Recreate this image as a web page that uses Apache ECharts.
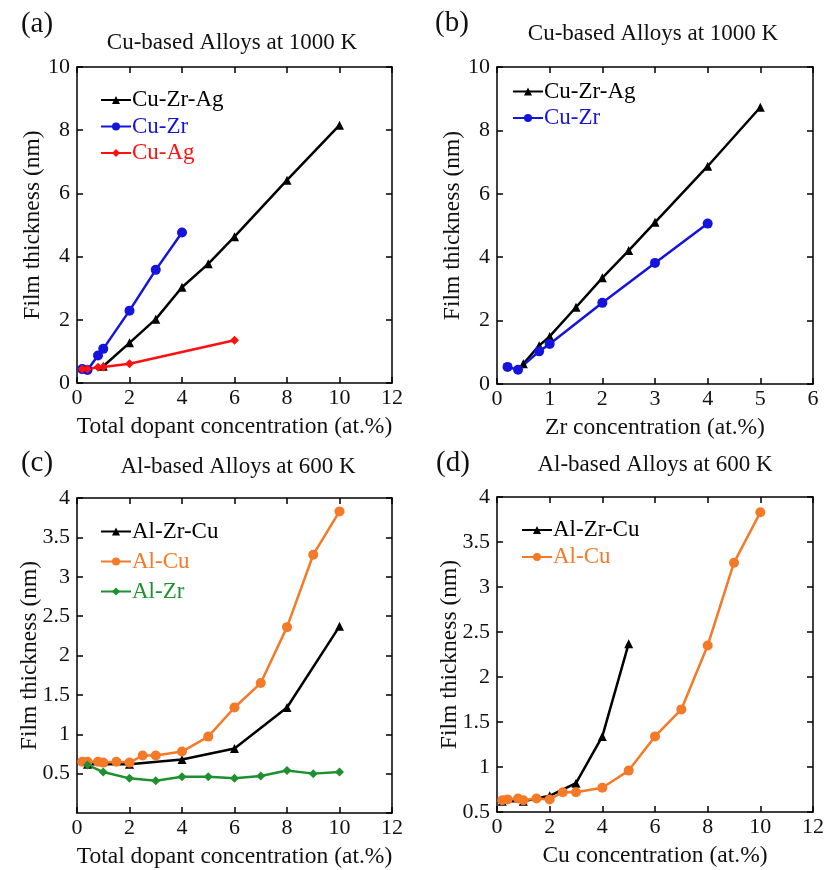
<!DOCTYPE html>
<html><head><meta charset="utf-8">
<script src="https://cdn.jsdelivr.net/npm/echarts@6/dist/echarts.min.js"></script>
<style>html,body{margin:0;padding:0;background:#fff}#c{width:827px;height:870px}</style>
</head><body><div id="c"></div>
<script>
// ---- Data ----
// Panel (a): Cu-based, total dopant
const aCuZrAgX = [1, 2, 3, 4, 5, 6, 8, 10];
const aCuZrAgY = [0.53, 1.27, 2.02, 3.03, 3.77, 4.63, 6.42, 8.16];
const aCuZrX = [0.2, 0.4, 0.8, 1, 2, 3, 4];
const aCuZrY = [0.44, 0.41, 0.87, 1.08, 2.29, 3.58, 4.76];
const aCuAgX = [0.2, 0.4, 0.8, 1, 2, 6];
const aCuAgY = [0.44, 0.44, 0.50, 0.51, 0.61, 1.35];
// Panel (b): Cu-based, Zr concentration
const bCuZrAgX = [0.5, 0.8, 1, 1.5, 2, 2.5, 3, 4, 5];
const bCuZrAgY = [0.64, 1.21, 1.50, 2.42, 3.35, 4.21, 5.10, 6.87, 8.73];
const bCuZrX = [0.2, 0.4, 0.8, 1, 2, 3, 4];
const bCuZrY = [0.54, 0.45, 1.03, 1.26, 2.56, 3.82, 5.06];
// Panel (c): Al-based, total dopant
const cAlZrCuX = [0.4, 2, 4, 6, 8, 10];
const cAlZrCuY = [0.62, 0.62, 0.68, 0.82, 1.34, 2.37];
const cAlCuX = [0.2, 0.4, 0.8, 1, 1.5, 2, 2.5, 3, 4, 5, 6, 7, 8, 9, 10];
const cAlCuY = [0.65, 0.65, 0.65, 0.64, 0.65, 0.64, 0.73, 0.73, 0.78, 0.97, 1.34, 1.65, 2.36, 3.28, 3.83];
const cAlZrX = [0.4, 1, 2, 3, 4, 5, 6, 7, 8, 9, 10];
const cAlZrY = [0.61, 0.52, 0.44, 0.41, 0.46, 0.46, 0.44, 0.47, 0.54, 0.50, 0.52];
// Panel (d): Al-based, Cu concentration
const dAlZrCuX = [0.2, 1, 2, 3, 4, 5];
const dAlZrCuY = [0.62, 0.62, 0.68, 0.82, 1.34, 2.37];
const dAlCuX = [0.2, 0.4, 0.8, 1, 1.5, 2, 2.5, 3, 4, 5, 6, 7, 8, 9, 10];
const dAlCuY = [0.63, 0.64, 0.65, 0.63, 0.65, 0.64, 0.72, 0.72, 0.77, 0.96, 1.34, 1.64, 2.35, 3.27, 3.83];

const panelTitles = ['Cu-based Alloys at 1000 K', 'Cu-based Alloys at 1000 K', 'Al-based Alloys at 600 K', 'Al-based Alloys at 600 K'];
const panelLetters = ['(a)', '(b)', '(c)', '(d)'];
const xNames = ['Total dopant concentration (at.%)', 'Zr concentration (at.%)', 'Total dopant concentration (at.%)', 'Cu concentration (at.%)'];
const yName = 'Film thickness (nm)';

// ---- Styling / layout ----
const FONT = '"Liberation Serif", "Times New Roman", serif';
const C = {black: '#000000', blue: '#1414dc', red: '#ff1010', orange: '#f47a28', green: '#1f9030'};
const grids = [
  {left: 77, top: 67, width: 315, height: 316},
  {left: 497, top: 67, width: 316, height: 317},
  {left: 77, top: 498, width: 315, height: 315},
  {left: 497, top: 497, width: 316, height: 315}
];
const xr = [{min: 0, max: 12, interval: 2}, {min: 0, max: 6, interval: 1}, {min: 0, max: 12, interval: 2}, {min: 0, max: 12, interval: 2}];
const yr = [{min: 0, max: 10, interval: 2}, {min: 0, max: 10, interval: 2}, {min: 0, max: 4, interval: 0.5}, {min: 0.5, max: 4, interval: 0.5}];
const yNameGap = [32, 32, 35, 35];

function zip(xs, ys) { return xs.map((x, i) => [x, ys[i]]); }

const mkLine = () => ({show: true, onZero: false, lineStyle: {color: '#000', width: 1.5}});
const mkTick = () => ({show: true, inside: true, length: 6, lineStyle: {color: '#000', width: 1.5}});
const mkLbl = () => ({color: '#111', fontFamily: FONT, fontSize: 22});
const nameStyle = () => ({color: '#111', fontFamily: FONT, fontSize: 23.5});

const xAxis = [], yAxis = [];
for (let i = 0; i < 4; i++) {
  xAxis.push(Object.assign({type: 'value', gridIndex: i, position: 'bottom', name: xNames[i], nameLocation: 'middle', nameGap: 32,
    nameMoveOverlap: false,
    nameTextStyle: nameStyle(), axisLine: mkLine(), axisTick: mkTick(), splitLine: {show: false},
    axisLabel: Object.assign({margin: 4}, mkLbl())}, xr[i]));
  yAxis.push(Object.assign({type: 'value', gridIndex: i, position: 'left', name: yName, nameLocation: 'middle', nameGap: yNameGap[i],
    nameMoveOverlap: false,
    nameTextStyle: nameStyle(), axisLine: mkLine(), axisTick: mkTick(), splitLine: {show: false},
    axisLabel: Object.assign({margin: 7, showMinLabel: i !== 2}, mkLbl())}, yr[i]));
}
for (let i = 0; i < 4; i++) {
  xAxis.push(Object.assign({type: 'value', gridIndex: i, position: 'top', axisLine: mkLine(), axisTick: mkTick(), splitLine: {show: false}, axisLabel: {show: false}}, xr[i]));
  yAxis.push(Object.assign({type: 'value', gridIndex: i, position: 'right', axisLine: mkLine(), axisTick: mkTick(), splitLine: {show: false}, axisLabel: {show: false}}, yr[i]));
}

function ser(name, gi, xs, ys, color, symbol, size) {
  return {name, type: 'line', xAxisIndex: gi, yAxisIndex: gi, data: zip(xs, ys), symbol, symbolSize: size,
    lineStyle: {color, width: 2.5}, itemStyle: {color}, animation: false};
}
// legends need unique names per panel (trailing space distinguishes duplicates)
const series = [
  ser('Cu-Zr-Ag', 0, aCuZrAgX, aCuZrAgY, C.black, 'triangle', 9),
  ser('Cu-Zr', 0, aCuZrX, aCuZrY, C.blue, 'circle', 10),
  ser('Cu-Ag', 0, aCuAgX, aCuAgY, C.red, 'diamond', 9),
  ser('Cu-Zr-Ag ', 1, bCuZrAgX, bCuZrAgY, C.black, 'triangle', 9),
  ser('Cu-Zr ', 1, bCuZrX, bCuZrY, C.blue, 'circle', 10),
  ser('Al-Zr-Cu', 2, cAlZrCuX, cAlZrCuY, C.black, 'triangle', 9),
  ser('Al-Cu', 2, cAlCuX, cAlCuY, C.orange, 'circle', 10),
  ser('Al-Zr', 2, cAlZrX, cAlZrY, C.green, 'diamond', 9),
  ser('Al-Zr-Cu ', 3, dAlZrCuX, dAlZrCuY, C.black, 'triangle', 9),
  ser('Al-Cu ', 3, dAlCuX, dAlCuY, C.orange, 'circle', 10)
];

function legend(items, left, top, gap) {
  return {orient: 'vertical', left, top, itemWidth: 30, itemHeight: 10, itemGap: gap, padding: 0,
    data: items.map(([n, c]) => ({name: n, textStyle: {color: c}})),
    textStyle: {fontFamily: FONT, fontSize: 23, lineHeight: 23, padding: [0, 0, 0, -4]}};
}

const letterPos = [[37, 24], [452, 23], [37, 463], [453, 463]];
const titlePos = [[232, 43], [653, 34], [238, 467], [655, 465]];
const graphic = [];
for (let i = 0; i < 4; i++) {
  graphic.push({type: 'text', x: letterPos[i][0], y: letterPos[i][1], style: {text: panelLetters[i], fontFamily: FONT, fontSize: 29, fill: '#111', align: 'center', verticalAlign: 'middle'}});
  graphic.push({type: 'text', x: titlePos[i][0], y: titlePos[i][1], style: {text: panelTitles[i], fontFamily: FONT, fontSize: 23, fill: '#111', align: 'center', verticalAlign: 'middle'}});
}

const chart = echarts.init(document.getElementById('c'), null, {renderer: 'canvas'});
chart.setOption({
  backgroundColor: '#fff',
  animation: false,
  grid: grids.map(g => Object.assign({containLabel: false}, g)),
  xAxis, yAxis, series, graphic,
  legend: [
    legend([['Cu-Zr-Ag', C.black], ['Cu-Zr', C.blue], ['Cu-Ag', C.red]], 100, 88.5, 3.5),
    legend([['Cu-Zr-Ag ', C.black], ['Cu-Zr ', C.blue]], 512, 80, 3.5),
    legend([['Al-Zr-Cu', C.black], ['Al-Cu', C.orange], ['Al-Zr', C.green]], 100, 520, 7),
    legend([['Al-Zr-Cu ', C.black], ['Al-Cu ', C.orange]], 521, 518.5, 4)
  ]
});
</script></body></html>
